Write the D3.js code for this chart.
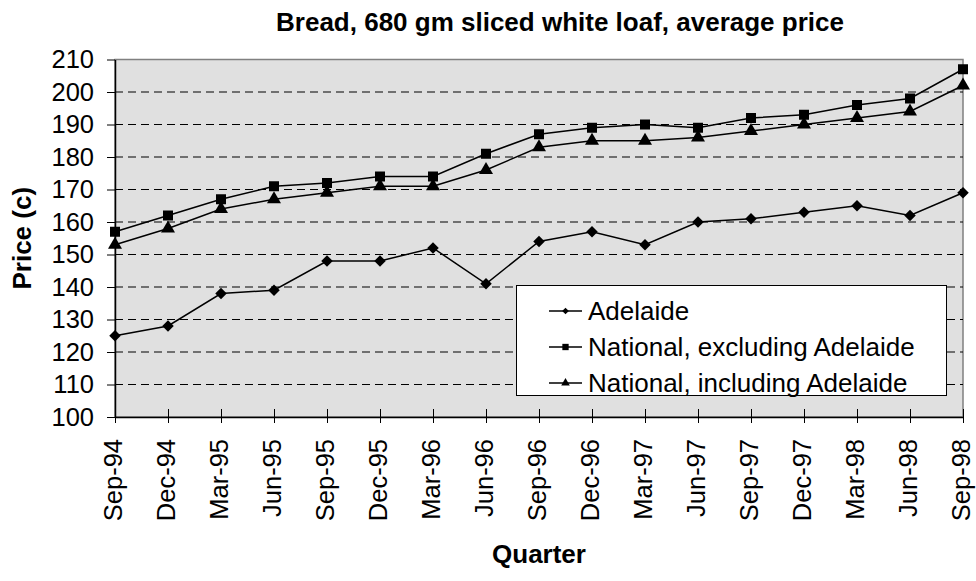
<!DOCTYPE html>
<html>
<head>
<meta charset="utf-8">
<script src="https://cdn.jsdelivr.net/npm/d3@7"></script>
<style>
  html, body { margin: 0; padding: 0; background: #fff; }
  svg { display: block; font-family: "Liberation Sans", Arial, sans-serif; }
</style>
</head>
<body>
<svg id="chart" width="976" height="581"></svg>
<script>
// Quarterly average price (cents) of a 680 gm sliced white loaf
const quarters = ["Sep-94","Dec-94","Mar-95","Jun-95","Sep-95","Dec-95","Mar-96","Jun-96",
  "Sep-96","Dec-96","Mar-97","Jun-97","Sep-97","Dec-97","Mar-98","Jun-98","Sep-98"];
const adelaide     = [125,128,138,139,148,148,152,141,154,157,153,160,161,163,165,162,169];
const nationalExcl = [157,162,167,171,172,174,174,181,187,189,190,189,192,193,196,198,207];
const nationalIncl = [153,158,164,167,169,171,171,176,183,185,185,186,188,190,192,194,202];
const yTicks = [100,110,120,130,140,150,160,170,180,190,200,210];
const seriesNames = ["Adelaide","National, excluding Adelaide","National, including Adelaide"];

// square-type symbols turned 45 degrees give the even diamond marker
const series = [
  { name: seriesNames[0], values: adelaide,     symbol: d3.symbolSquare,   rotate: 45, size: 66,  legendSize: 22 },
  { name: seriesNames[1], values: nationalExcl, symbol: d3.symbolSquare,   rotate: 0,  size: 100, legendSize: 40 },
  { name: seriesNames[2], values: nationalIncl, symbol: d3.symbolTriangle, rotate: 0,  size: 85,  legendSize: 32 }
];

const svg = d3.select("#chart");
const plot = { left: 115, right: 963, top: 59.5, bottom: 417 };
const tickFont = 25.5;
const titleFont = 26;

const x = d3.scalePoint().domain(quarters).range([plot.left, plot.right]);
const y = d3.scaleLinear().domain([100, 210]).range([plot.bottom, plot.top]);

// plot area background and border
svg.append("rect")
  .attr("x", plot.left).attr("y", plot.top)
  .attr("width", plot.right - plot.left).attr("height", plot.bottom - plot.top)
  .attr("fill", "#e0e0e0").attr("stroke", "#808080").attr("stroke-width", 1.5);

// dashed horizontal gridlines
svg.append("g").selectAll("line")
  .data(yTicks.filter(v => v > 100 && v < 210))
  .join("line")
  .attr("x1", plot.left).attr("x2", plot.right)
  .attr("y1", d => y(d)).attr("y2", d => y(d))
  .attr("stroke", "#000").attr("stroke-width", 1)
  .attr("stroke-dasharray", "8,5");

// y axis
const yAxis = svg.append("g")
  .attr("transform", `translate(${plot.left},0)`)
  .call(d3.axisLeft(y).tickValues(yTicks).tickSizeInner(8).tickSizeOuter(0).tickPadding(13));
yAxis.select(".domain").attr("stroke", "#000").attr("stroke-width", 1.5);
yAxis.selectAll(".tick line").attr("stroke", "#000").attr("x2", 0).attr("x1", -8);
yAxis.selectAll(".tick text")
  .attr("font-size", tickFont).attr("fill", "#000")
  .attr("font-family", "'Liberation Sans', Arial, sans-serif");

// x axis with crossing ticks and rotated labels
const xAxis = svg.append("g")
  .attr("transform", `translate(0,${plot.bottom})`)
  .call(d3.axisBottom(x).tickSizeInner(6).tickSizeOuter(0).tickPadding(0));
xAxis.select(".domain").attr("stroke", "#000").attr("stroke-width", 1.5);
xAxis.selectAll(".tick line").attr("stroke", "#000").attr("y1", -8).attr("y2", 6);
xAxis.selectAll(".tick text")
  .attr("font-size", tickFont).attr("fill", "#000")
  .attr("font-family", "'Liberation Sans', Arial, sans-serif")
  .attr("transform", "rotate(-90)")
  .attr("text-anchor", "end")
  .attr("x", -22).attr("y", -2).attr("dy", "0.35em");

// series lines and markers
const line = d3.line().x((d, i) => x(quarters[i])).y(d => y(d));
series.forEach(s => {
  svg.append("path")
    .datum(s.values)
    .attr("d", line)
    .attr("fill", "none").attr("stroke", "#000").attr("stroke-width", 1.5);
  svg.append("g").selectAll("path")
    .data(s.values)
    .join("path")
    .attr("transform", (d, i) => `translate(${x(quarters[i])},${y(d)}) rotate(${s.rotate})`)
    .attr("d", d3.symbol().type(s.symbol).size(s.size))
    .attr("fill", "#000");
});

// legend
const legend = svg.append("g");
legend.append("rect")
  .attr("x", 516.5).attr("y", 285.5).attr("width", 430).attr("height", 110)
  .attr("fill", "#fff").attr("stroke", "#000").attr("stroke-width", 1);
series.forEach((s, i) => {
  const ly = 311 + i * 36;
  legend.append("line")
    .attr("x1", 549).attr("x2", 582).attr("y1", ly).attr("y2", ly)
    .attr("stroke", "#000").attr("stroke-width", 1.5);
  legend.append("path")
    .attr("transform", `translate(565.5,${ly}) rotate(${s.rotate})`)
    .attr("d", d3.symbol().type(s.symbol).size(s.legendSize))
    .attr("fill", "#000");
  legend.append("text")
    .attr("x", 588).attr("y", ly).attr("dy", "0.36em")
    .attr("font-size", 26).text(s.name);
});

// titles
svg.append("text")
  .attr("x", 560).attr("y", 31).attr("text-anchor", "middle")
  .attr("font-size", titleFont).attr("font-weight", "bold")
  .text("Bread, 680 gm sliced white loaf, average price");

svg.append("text")
  .attr("x", (plot.left + plot.right) / 2).attr("y", 563).attr("text-anchor", "middle")
  .attr("font-size", titleFont).attr("font-weight", "bold")
  .text("Quarter");

svg.append("text")
  .attr("transform", `translate(31,${(plot.top + plot.bottom) / 2}) rotate(-90)`)
  .attr("text-anchor", "middle")
  .attr("font-size", titleFont).attr("font-weight", "bold")
  .text("Price (c)");
</script>
</body>
</html>
